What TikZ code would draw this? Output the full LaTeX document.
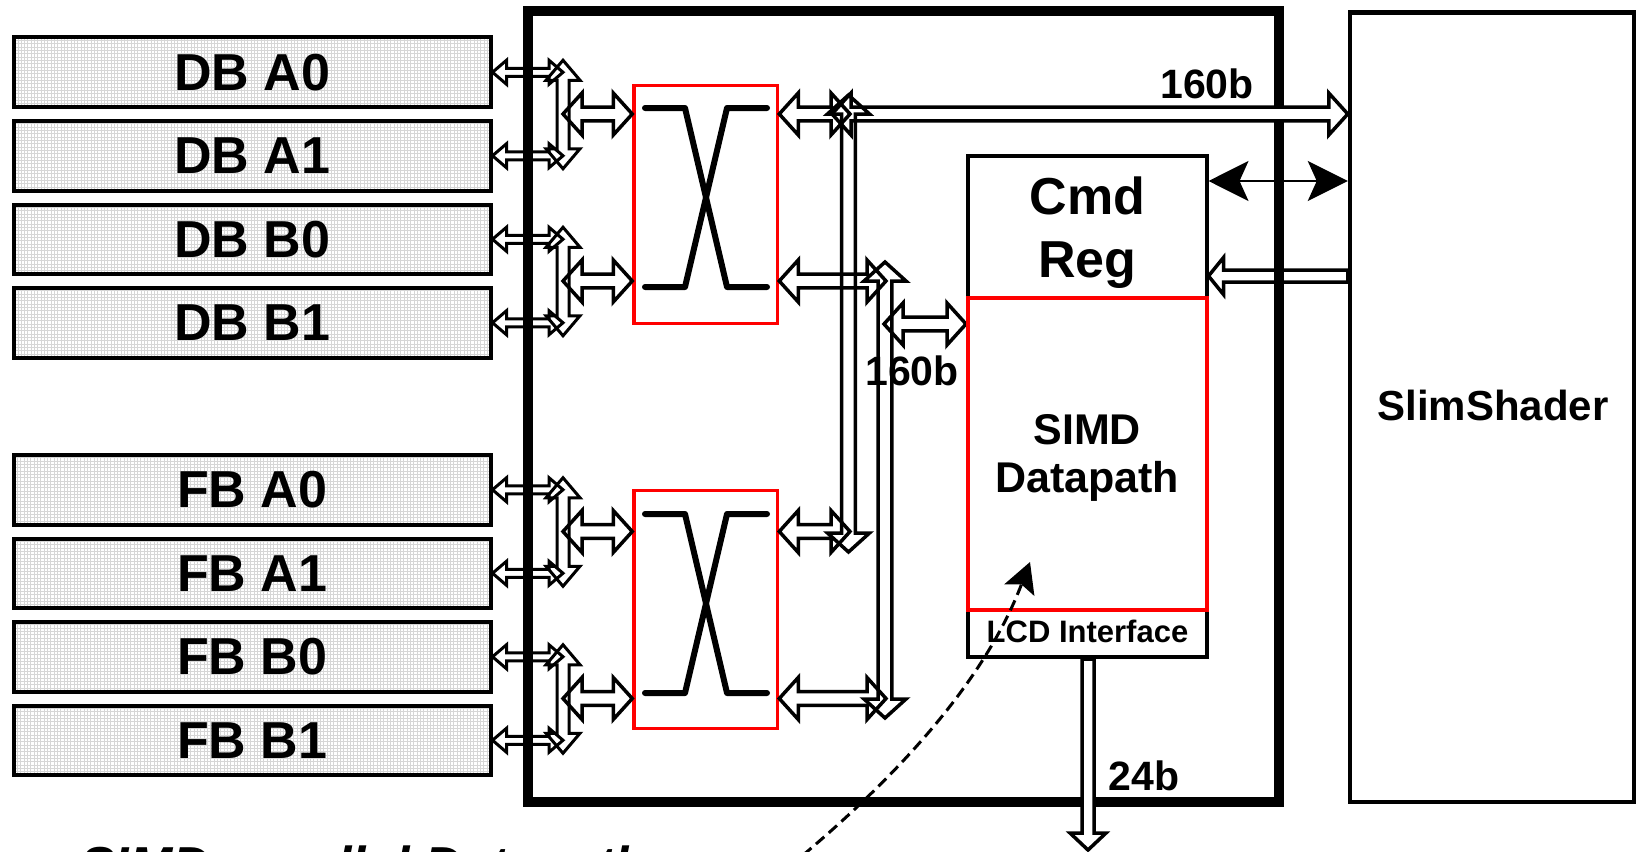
\documentclass[tikz,border=0pt]{standalone}
\usepackage{fontspec}
\setmainfont{Liberation Sans}
\usetikzlibrary{arrows.meta,calc}
\newcommand\fsz[1]{\fontsize{#1}{#1}\selectfont\bfseries}
\tikzset{
  small/.code={\def\bhl{14pt}\def\bhw{12pt}\def\bsw{4pt}},
  big/.code={\def\bhl{19pt}\def\bhw{21pt}\def\bsw{6.8pt}},
  brk/.code={\def\bhl{20pt}\def\bhw{17pt}\def\bsw{6pt}},
  cmdin/.code={\def\bhl{15pt}\def\bhw{18.5pt}\def\bsw{6pt}},
  outbus/.code={\def\bhl{17pt}\def\bhw{18pt}\def\bsw{6pt}},
  hdbl/.style={to path={let \p1=(\tikztostart),\p2=(\tikztotarget) in
     (\x1,\y1) -- (\x1+\bhl,\y1+\bhw) -- (\x1+\bhl,\y1+\bsw) -- (\x2-\bhl,\y1+\bsw) -- (\x2-\bhl,\y1+\bhw) -- (\x2,\y1) -- (\x2-\bhl,\y1-\bhw) -- (\x2-\bhl,\y1-\bsw) -- (\x1+\bhl,\y1-\bsw) -- (\x1+\bhl,\y1-\bhw) -- cycle}},
  hleft/.style={to path={let \p1=(\tikztostart),\p2=(\tikztotarget) in
     (\x1,\y1) -- (\x1+\bhl,\y1+\bhw) -- (\x1+\bhl,\y1+\bsw) -- (\x2,\y1+\bsw) -- (\x2,\y1-\bsw) -- (\x1+\bhl,\y1-\bsw) -- (\x1+\bhl,\y1-\bhw) -- cycle}},
  vdbl/.style={to path={let \p1=(\tikztostart),\p2=(\tikztotarget) in
     (\x1,\y1) -- (\x1+\bhw,\y1-\bhl) -- (\x1+\bsw,\y1-\bhl) -- (\x1+\bsw,\y2+\bhl) -- (\x1+\bhw,\y2+\bhl) -- (\x1,\y2) -- (\x1-\bhw,\y2+\bhl) -- (\x1-\bsw,\y2+\bhl) -- (\x1-\bsw,\y1-\bhl) -- (\x1-\bhw,\y1-\bhl) -- cycle}},
  vdown/.style={to path={let \p1=(\tikztostart),\p2=(\tikztotarget) in
     (\x1-\bsw,\y1) -- (\x1-\bsw,\y2+\bhl) -- (\x1-\bhw,\y2+\bhl) -- (\x1,\y2) -- (\x1+\bhw,\y2+\bhl) -- (\x1+\bsw,\y2+\bhl) -- (\x1+\bsw,\y1) -- cycle}},
  blkS/.style={draw, line width=3pt},
  blkB/.style={draw, line width=3.5pt},
  mem/.style={draw, line width=4pt, fill=white, minimum width=476.5pt, minimum height=69.5pt, inner sep=0pt, font={\fsz{52}},
    path picture={\draw[gray!32, line width=0.45pt] (path picture bounding box.south west) grid[step=3.33pt] (path picture bounding box.north east);}},
  xbar/.style={draw=red, line width=3.5pt, minimum width=143.5pt, minimum height=238pt, inner sep=0pt},
  xsym/.style={line width=6pt, line cap=round, line join=round},
  blackbox/.style={draw, line width=4pt, minimum width=238.5pt, inner sep=0pt},
  lbl/.style={anchor=base, inner sep=0pt},
}
\begin{document}
\begin{tikzpicture}[x=1pt,y=-1pt]
\useasboundingbox (0,0) rectangle (1637,851);
\clip (0,0) rectangle (1637,851);

% main chip box
\node[draw, line width=10pt, minimum width=751.5pt, minimum height=790.5pt, inner sep=0pt] (chip) at (903.25,406.75) {};

% memories
\node[mem] (dba0) at (252.25,72.25) {DB A0};
\node[mem] (dba1) at (252.25,155.75) {DB A1};
\node[mem] (dbb0) at (252.25,239.25) {DB B0};
\node[mem] (dbb1) at (252.25,322.75) {DB B1};
\node[mem] (fba0) at (252.25,489.75) {FB A0};
\node[mem] (fba1) at (252.25,573.25) {FB A1};
\node[mem] (fbb0) at (252.25,656.75) {FB B0};
\node[mem] (fbb1) at (252.25,740.25) {FB B1};

% SlimShader
\node[draw, line width=4.5pt, minimum width=284pt, minimum height=789.5pt, inner sep=0pt] (slim) at (1492,407.25) {};

% crossbars
\node[xbar] (xu) at (705.75,204.65) {};
\node[xbar] (xl) at (705.75,609.65) {};

% datapath boxes
\node[blackbox, minimum height=142.5pt] (cmd) at (1087.25,226.75) {};
\node[blackbox, minimum height=47pt] (lcd) at (1087.25,633.5) {};
\node[draw=red, line width=4pt, minimum width=238.5pt, minimum height=312pt, inner sep=0pt] (simd) at (1087.25,454) {};

% helper coordinates
\coordinate (lb) at (563,0);
\coordinate (b1) at (850,0);
\coordinate (b2) at (886,0);
\coordinate (mA) at ($(lb |- dba0.east)!0.5!(lb |- dba1.east)$);
\coordinate (mB) at ($(lb |- dbb0.east)!0.5!(lb |- dbb1.east)$);
\coordinate (mC) at ($(lb |- fba0.east)!0.5!(lb |- fba1.east)$);
\coordinate (mD) at ($(lb |- fbb0.east)!0.5!(lb |- fbb1.east)$);
\coordinate (lt) at (832,0);
\coordinate (b1t) at (848.5,95);
\coordinate (b1b) at (848.5,552);
\coordinate (b2t) at (885,262);
\coordinate (b2b) at (885,718);
\coordinate (a3) at (884,324);
\coordinate (lvC) at (0,181);
\coordinate (lvD) at (0,276);
\coordinate (t24) at (1088,850);
\coordinate (dst) at (790,866);
\coordinate (dend) at (1030,562);

% white fills of arrows crossing the chip border
\path[big, hdbl, fill=white] (lt |- mA) to (slim.west |- mA);
\path[outbus, vdown, fill=white] (lcd.south -| t24) to (t24);

% memory side arrows
\foreach \m in {dba0,dba1,dbb0,dbb1,fba0,fba1,fbb0,fbb1}{
  \draw[blkS, small, hdbl] (\m.east) to (lb |- \m.east);
}
\draw[blkS, brk, vdbl] ($(lb |- dba0.east)+(0,-12)$) to ($(lb |- dba1.east)+(0,13)$);
\draw[blkS, brk, vdbl] ($(lb |- dbb0.east)+(0,-12)$) to ($(lb |- dbb1.east)+(0,13)$);
\draw[blkS, brk, vdbl] ($(lb |- fba0.east)+(0,-12)$) to ($(lb |- fba1.east)+(0,13)$);
\draw[blkS, brk, vdbl] ($(lb |- fbb0.east)+(0,-12)$) to ($(lb |- fbb1.east)+(0,13)$);
\draw[blkB, big, hdbl] (mA) to (xu.west |- mA);
\draw[blkB, big, hdbl] (mB) to (xu.west |- mB);
\draw[blkB, big, hdbl] (mC) to (xl.west |- mC);
\draw[blkB, big, hdbl] (mD) to (xl.west |- mD);

% crossbar symbols
\draw[xsym] (645,108) -- (685,108) -- (727,287) -- (767,287);
\draw[xsym] (767,108) -- (727,108) -- (685,287) -- (645,287);
\draw[xsym] (645,514) -- (685,514) -- (727,693) -- (767,693);
\draw[xsym] (767,514) -- (727,514) -- (685,693) -- (645,693);

% crossbar right side
\draw[blkB, big, hdbl] (xu.east |- mA) to (b1 |- mA);
\draw[blkB, big, hdbl] (xu.east |- mB) to (b2 |- mB);
\draw[blkB, big, hdbl] (xl.east |- mC) to (b1 |- mC);
\draw[blkB, big, hdbl] (xl.east |- mD) to (b2 |- mD);
\draw[blkB, big, vdbl] (b1t) to (b1b);
\draw[blkB, big, vdbl] (b2t) to (b2b);
\draw[blkB, big, hdbl] (lt |- mA) to (slim.west |- mA);
\draw[blkB, big, hdbl] (a3) to (simd.west |- a3);

% redraw red box edges on top
\node[draw=red, line width=4pt, minimum width=238.5pt, minimum height=312pt, inner sep=0pt] (simdb) at (simd) {};

% Cmd <-> SlimShader
\draw[line width=1.6pt, {Stealth[length=40pt,width=40pt,inset=9pt]}-{Stealth[length=40pt,width=40pt,inset=9pt]}] (cmd.east |- lvC) -- (slim.west |- lvC);
\draw[blkB, cmdin, hleft] (cmd.east |- lvD) to (slim.west |- lvD);
% LCD output
\draw[blkB, outbus, vdown] (lcd.south -| t24) to (t24);

% texts
\node[lbl, font={\fsz{52}}] (tcmd) at (1087.25,214) {Cmd};
\node[lbl, font={\fsz{52}}] (treg) at (1087.25,277) {Reg};
\node[lbl, font={\fsz{43}}] (tsimd) at (1087.25,444) {SIMD};
\node[lbl, font={\fsz{43}}] (tdp) at (1087.25,492) {Datapath};
\node[lbl, font={\fsz{31}}] (tlcd) at (1087.5,642) {LCD Interface};
\node[lbl, font={\fsz{42}}] (tslim) at (1493,420) {SlimShader};
\node[lbl, font={\fsz{41}}] (t160a) at (1207,98) {160b};
\node[lbl, font={\fsz{41}}] (t160b) at (912,385) {160b};
\node[lbl, font={\fsz{41}}] (t24b) at (1144,790) {24b};
\node[anchor=base west, inner sep=0pt, font={\fsz{52}\itshape}] (tpar) at (80,883) {SIMD-parallel Datapath};

% dashed pointer
\draw[line width=3pt, dash pattern=on 11pt off 6pt, -{Stealth[length=30pt,width=32pt,inset=6pt]}] (dst) .. controls (900,775) and (985,680) .. (dend);
\end{tikzpicture}
\end{document}
